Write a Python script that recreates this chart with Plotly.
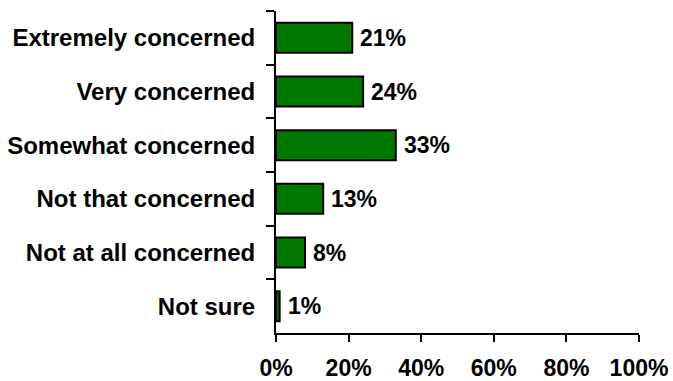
import plotly.graph_objects as go

categories = ["Extremely concerned", "Very concerned", "Somewhat concerned",
              "Not that concerned", "Not at all concerned", "Not sure"]
values = [21, 24, 33, 13, 8, 1]
x_ticks = [0, 20, 40, 60, 80, 100]
x_tick_labels = ["0%", "20%", "40%", "60%", "80%", "100%"]

FONT = "Liberation Sans, Arial, sans-serif"

fig = go.Figure()
fig.add_trace(go.Bar(
    x=values, y=categories, orientation="h",
    marker=dict(color="#007800", line=dict(color="black", width=2)),
    width=0.56,
    hoverinfo="skip",
))

for c, v in zip(categories, values):
    fig.add_annotation(x=v, y=c, text=f"{v}%", xanchor="left", yanchor="middle",
                       xshift=6, showarrow=False,
                       font=dict(family=FONT, size=23, color="black", weight="bold"))

fig.update_layout(
    width=673, height=381,
    margin=dict(l=276, r=34, t=11, b=48),
    paper_bgcolor="white", plot_bgcolor="white",
    showlegend=False,
    font=dict(family=FONT, size=23, color="black"),
)
fig.update_xaxes(
    range=[0, 100], tickvals=x_ticks, ticktext=x_tick_labels,
    showgrid=False, zeroline=False, automargin=False,
    showline=True, linecolor="black", linewidth=2,
    ticks="outside", ticklen=7, tickwidth=2, tickcolor="black",
    ticklabelstandoff=6,
    tickfont=dict(family=FONT, size=23, color="black", weight="bold"),
)
fig.update_yaxes(
    categoryorder="array", categoryarray=categories, autorange="reversed",
    showgrid=False, zeroline=False, automargin=False,
    showline=True, linecolor="black", linewidth=2,
    ticks="outside", ticklen=8, tickwidth=2, tickcolor="black",
    tickson="boundaries", ticklabelstandoff=14,
    tickfont=dict(family=FONT, size=24, color="black", weight="bold"),
)

fig.write_html("out.html")
